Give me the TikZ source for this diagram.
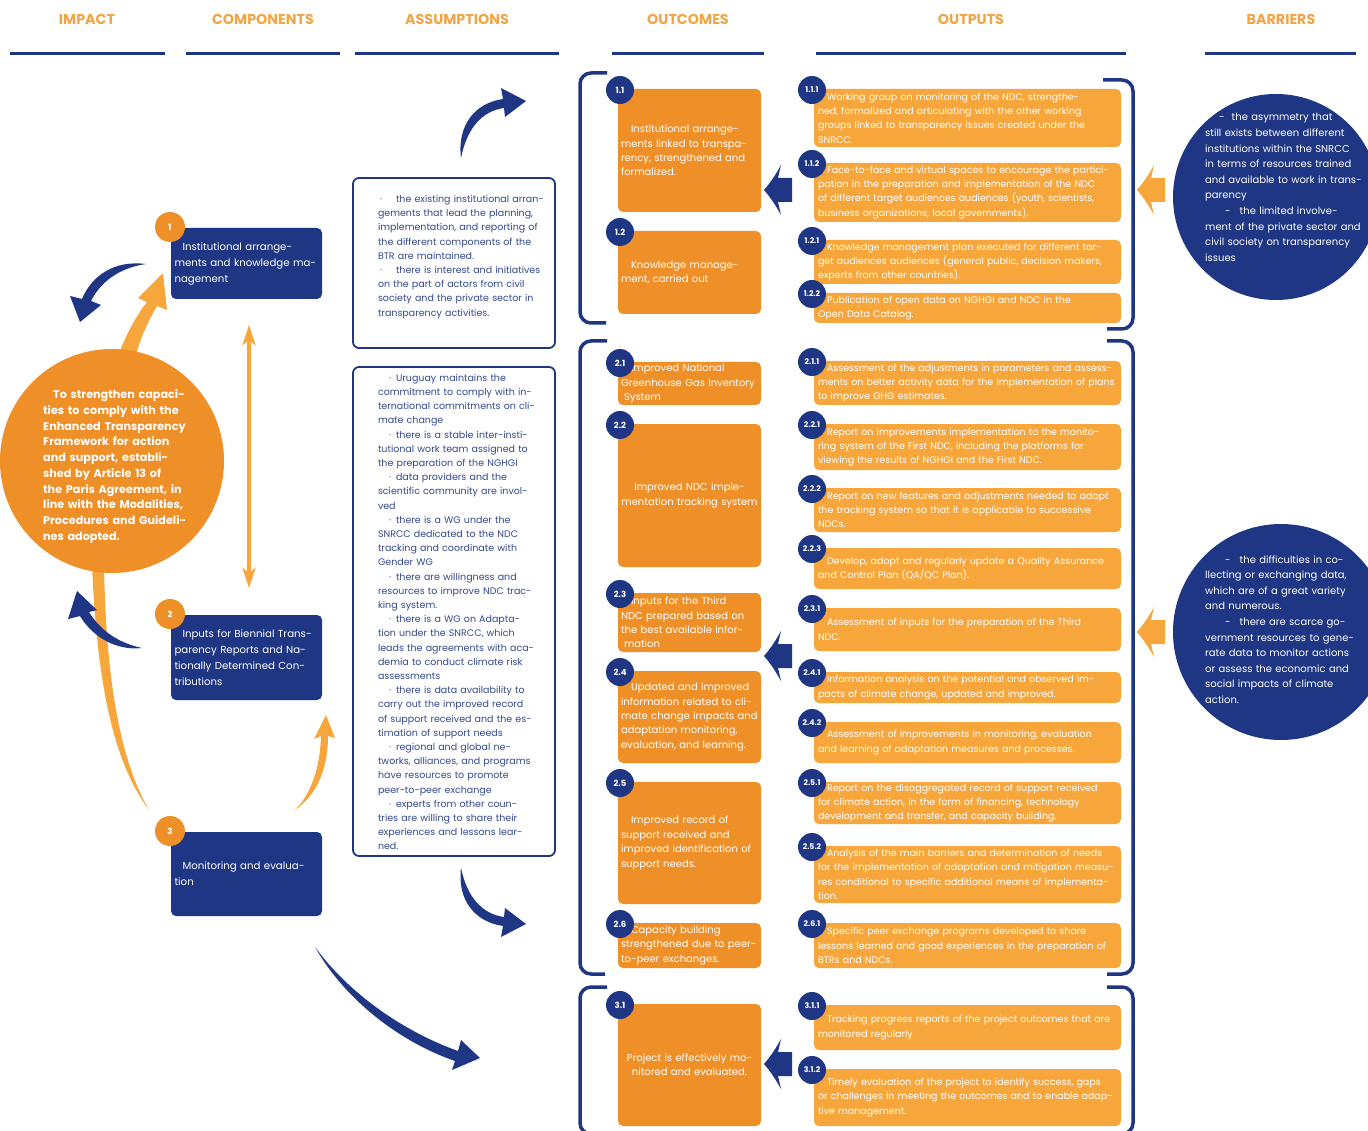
\documentclass[tikz,border=0pt]{standalone}
\usepackage{fontspec}
\setmainfont{Poppins}
\usetikzlibrary{arrows.meta}
\definecolor{navy}{HTML}{1F3684}
\definecolor{ink}{HTML}{34498E}
\definecolor{outcomeor}{HTML}{EE8F28}
\definecolor{outputor}{HTML}{F6A63B}
\definecolor{heador}{HTML}{F2A446}
% a justified line of the full text width
\newcommand\jl[1]{\makebox[\linewidth][s]{#1}}
% output box with its numbered badge: name, label, top, bottom, text
\newcommand\outp[5]{%
  \node[outbox, minimum height={(#4-#3)*1pt}] (#1) at (967.5,{(#3+#4)/2}) {#5};
  \node[nbadge] (#1n) at (812,#3+1) {#2};}
% outcome box with its numbered badge: name, label, top, bottom, alignment, text
\newcommand\outc[6]{%
  \node[ocbox, align=#5, minimum height={(#4-#3)*1pt}] (#1) at (689.5,{(#3+#4)/2}) {#6};
  \node[nbadge, font=\bfseries\fontsize{8.5}{8.5}\selectfont] (#1n) at (620,#3+1) {#2};}
% left-pointing block arrow: colour, tip x, centre y
\newcommand\leftblock[3]{%
  \fill[#1] (#2,#3) .. controls (#2+7,#3-8) and (#2+12,#3-16) .. (#2+17,#3-25)
    -- (#2+14,#3-12) -- (#2+28,#3-12) -- (#2+28,#3+12) -- (#2+14,#3+12)
    -- (#2+17,#3+25) .. controls (#2+12,#3+16) and (#2+7,#3+8) .. cycle;}

\begin{document}
\begin{tikzpicture}[x=1pt,y=-1pt,
  head/.style={text=heador, font=\bfseries\fontsize{14.3}{15}\selectfont},
  rule/.style={navy, line width=3pt},
  outbox/.style={fill=outputor, rounded corners=5pt, text=white, align=left,
    text width=299pt, inner xsep=4pt, inner ysep=0pt, font=\fontsize{9.5}{14.3}\selectfont},
  ocbox/.style={fill=outcomeor, rounded corners=5pt, text=white,
    text width=137pt, inner xsep=3pt, inner ysep=0pt, font=\fontsize{10}{14.4}\selectfont},
  nbadge/.style={circle, fill=navy, text=white, minimum size=28pt, inner sep=0pt,
    font=\bfseries\fontsize{7.8}{7.8}\selectfont},
  obadge/.style={circle, fill=outcomeor, text=white, minimum size=30pt, inner sep=0pt,
    font=\bfseries\fontsize{8.5}{8.5}\selectfont},
  compbox/.style={fill=navy, rounded corners=5pt, text=white, align=left,
    text width=144pt, inner xsep=3.5pt, inner ysep=0pt, font=\fontsize{10.2}{16}\selectfont},
  assbox/.style={draw=navy, line width=1.8pt, fill=white, rounded corners=6pt, minimum width=202pt},
  asstext/.style={text=ink, align=left, inner sep=0pt, font=\fontsize{9.5}{14.2}\selectfont},
  bracket/.style={navy, line width=3.5pt, rounded corners=11pt},
  barrier/.style={circle, fill=navy, inner sep=0pt},
  bartext/.style={text=white, align=left, inner sep=0pt, text width=160pt,
    font=\fontsize{10}{15.6}\selectfont},
  dblarrow/.style={outputor, line width=4pt,
    {Stealth[length=20pt,width=13pt,inset=5pt]}-{Stealth[length=20pt,width=13pt,inset=5pt]}},
]
\useasboundingbox (0,0) rectangle (1368,1131);
\fill[white] (0,0) rectangle (1368,1131);

% ---- column headings and rules
\node[head] (hImpact) at (87,19) {IMPACT};
\node[head] (hComp) at (263,19) {COMPONENTS};
\node[head] (hAss) at (457,19) {ASSUMPTIONS};
\node[head] (hOutc) at (688,19) {OUTCOMES};
\node[head] (hOutp) at (971,19) {OUTPUTS};
\node[head] (hBar) at (1281,19) {BARRIERS};
\draw[rule] (10,54) -- (165,54);
\draw[rule] (186,54) -- (340,54);
\draw[rule] (355,54) -- (559,54);
\draw[rule] (612,54) -- (764,54);
\draw[rule] (816,54) -- (1126,54);
\draw[rule] (1205,54) -- (1356,54);

% ---- swoosh arrows of the left part
\fill[outputor] (118,356) .. controls (126,335) and (136,316) .. (147,302)
  -- (138,298) -- (163,273) -- (167,310) -- (157,306)
  .. controls (148,322) and (140,338) .. (136,356) -- cycle;
\fill[outputor] (92,565) .. controls (97,680) and (112,760) .. (149,810)
  .. controls (120,760) and (106,680) .. (104,565) -- cycle;
\fill[navy] (146,264) .. controls (115,260) and (92,275) .. (82,299)
  -- (70,296) -- (80,322) -- (101,305) -- (91,301)
  .. controls (100,283) and (118,268) .. (146,264) -- cycle;
\fill[navy] (142,648) .. controls (115,651) and (92,636) .. (80,616)
  -- (68,619) -- (77,591) -- (97,610) -- (89,612)
  .. controls (100,630) and (118,643) .. (142,648) -- cycle;
\fill[outputor] (295,810) .. controls (315,796) and (328,772) .. (328,736)
  -- (335,738) -- (326,715) -- (314,739) -- (321,736)
  .. controls (320,770) and (310,795) .. (295,810) -- cycle;
\fill[navy] (461,158) .. controls (457,125) and (475,103) .. (503,99)
  -- (501,88) -- (526,101) -- (505,117) -- (504,108)
  .. controls (482,111) and (467,128) .. (461,158) -- cycle;
\fill[navy] (461,868) .. controls (457,900) and (475,922) .. (503,926)
  -- (501,937) -- (526,924) -- (505,908) -- (504,917)
  .. controls (482,914) and (467,897) .. (461,868) -- cycle;
\fill[navy] (315,947) .. controls (345,1000) and (400,1042) .. (455,1061)
  -- (452,1070) -- (480,1058) -- (461,1040) -- (458,1051)
  .. controls (405,1032) and (350,995) .. (315,947) -- cycle;

% ---- impact
\node[circle, fill=outcomeor, minimum size=224pt, inner sep=0pt] (impact) at (112,461) {};
\node[anchor=west, text width=160pt, align=left, inner sep=0pt, text=white,
  font=\bfseries\fontsize{11.2}{15.7}\selectfont] (impactText) at (43,466.5)
  {\hspace*{10pt}To strengthen capaci-\\ties to comply with the\\Enhanced Transparency\\Framework for action\\and support, establi-\\shed by Article 13 of\\the Paris Agreement, in\\line with the Modalities,\\Procedures and Guideli-\\nes adopted.};

% ---- components
\node[compbox, minimum height=71pt] (c1) at (246.5,263.5)
  {\jl{\hspace*{8pt}Institutional arrange-}\\\jl{ments and knowledge ma-}\\nagement};
\node[obadge] (c1n) at (170,227) {1};
\node[compbox, minimum height=85pt] (c2) at (246.5,657.5)
  {\jl{\hspace*{8pt}Inputs for Biennial Trans-}\\\jl{parency Reports and Na-}\\\jl{tionally Determined Con-}\\tributions};
\node[obadge] (c2n) at (170,614) {2};
\node[compbox, minimum height=84pt] (c3) at (246.5,874)
  {\jl{\hspace*{8pt}Monitoring and evalua-}\\tion};
\node[obadge] (c3n) at (170,831) {3};
\coordinate (dTop) at (249,325);
\coordinate (dBot) at (249,588);
\draw[dblarrow] (dTop) -- (dBot);

% ---- assumptions
\node[assbox, minimum height=170pt] (a1) at (454,263) {};
\node[asstext, text width=171pt] (a1t) at (463.5,257)
  {\jl{\hspace*{2pt}·\hspace*{14pt}the existing institutional arran-}\\
   \jl{gements that lead the planning,}\\
   \jl{implementation, and reporting of}\\
   \jl{the different components of the}\\
   BTR are maintained.\\
   \jl{\hspace*{2pt}·\hspace*{14pt}there is interest and initiatives}\\
   \jl{on the part of actors from civil}\\
   \jl{society and the private sector in}\\
   transparency activities.};
\node[assbox, minimum height=489pt] (a2) at (454,611.5) {};
\node[asstext, text width=158pt] (a2t) at (457,612)
  {\jl{\hspace*{11pt}·\hspace*{5pt}Uruguay maintains the}\\
   \jl{commitment to comply with in-}\\
   \jl{ternational commitments on cli-}\\
   mate change\\
   \jl{\hspace*{11pt}·\hspace*{5pt}there is a stable inter-insti-}\\
   \jl{tutional work team assigned to}\\
   the preparation of the NGHGI\\
   \jl{\hspace*{11pt}·\hspace*{5pt}data providers and the}\\
   \jl{scientific community are invol-}\\
   ved\\
   \jl{\hspace*{11pt}·\hspace*{5pt}there is a WG under the}\\
   \jl{SNRCC dedicated to the NDC}\\
   \jl{tracking and coordinate with}\\
   Gender WG\\
   \jl{\hspace*{11pt}·\hspace*{5pt}there are willingness and}\\
   \jl{resources to improve NDC trac-}\\
   king system.\\
   \jl{\hspace*{11pt}·\hspace*{5pt}there is a WG on Adapta-}\\
   \jl{tion under the SNRCC, which}\\
   \jl{leads the agreements with aca-}\\
   \jl{demia to conduct climate risk}\\
   assessments\\
   \jl{\hspace*{11pt}·\hspace*{5pt}there is data availability to}\\
   \jl{carry out the improved record}\\
   \jl{of support received and the es-}\\
   timation of support needs\\
   \jl{\hspace*{11pt}·\hspace*{5pt}regional and global ne-}\\
   \jl{tworks, alliances, and programs}\\
   \jl{have resources to promote}\\
   peer-to-peer exchange\\
   \jl{\hspace*{11pt}·\hspace*{5pt}experts from other coun-}\\
   \jl{tries are willing to share their}\\
   \jl{experiences and lessons lear-}\\
   ned.};

% ---- brackets round the outcome groups
\draw[bracket] (607,73) -- (580,73) -- (580,323) -- (606,323);
\draw[bracket] (1103,80) -- (1133,80) -- (1133,329) -- (1107,329);
\draw[bracket] (607,341) -- (580,341) -- (580,974) -- (605,974);
\draw[bracket] (1107,341) -- (1133,341) -- (1133,974) -- (1107,974);
\draw[bracket] (607,987) -- (580,987) -- (580,1134) -- (605,1134);
\draw[bracket] (1107,987) -- (1133,987) -- (1133,1134) -- (1107,1134);

% ---- outcomes
\outc{oc11}{1.1}{89}{212}{left}{\hspace*{10pt}Institutional arrange-\\ments linked to transpa-\\rency, strengthened and\\formalized.}
\outc{oc12}{1.2}{231}{314}{left}{\hspace*{10pt}Knowledge manage-\\ment, carried out}
\outc{oc21}{2.1}{362}{405}{left}{\hspace*{10pt}Improved National\\Greenhouse Gas Inventory\\\hspace*{3pt}System}
\outc{oc22}{2.2}{424}{567}{center}{Improved NDC imple-\\mentation tracking system}
\outc{oc23}{2.3}{593}{652}{left}{\hspace*{10pt}Inputs for the Third\\NDC prepared based on\\the best available infor-\\\hspace*{3pt}mation}
\outc{oc24}{2.4}{671}{763}{left}{\hspace*{10pt}Updated and improved\\information related to cli-\\mate change impacts and\\adaptation monitoring,\\evaluation, and learning.}
\outc{oc25}{2.5}{782}{904}{left}{\hspace*{10pt}Improved record of\\support received and\\improved identification of\\support needs.}
\outc{oc26}{2.6}{923}{968}{left}{\hspace*{10pt}Capacity building\\strengthened due to peer-\\to-peer exchanges.}
\outc{oc31}{3.1}{1004}{1126}{center}{Project is effectively mo-\\nitored and evaluated.}

% ---- outputs
\outp{o111}{1.1.1}{89}{147}{\hspace*{9pt}Working group on monitoring of the NDC, strengthe-\\ned, formalized and articulating with the other working\\groups linked to transparency issues created under the\\SNRCC.}
\outp{o112}{1.1.2}{163}{222}{\hspace*{9pt}Face-to-face and virtual spaces to encourage the partici-\\pation in the preparation and implementation of the NDC\\of different target audiences audiences (youth, scientists,\\business organizations, local governments).}
\outp{o121}{1.2.1}{240}{284}{\hspace*{9pt}Knowledge management plan executed for different tar-\\get audiences audiences (general public, decision makers,\\experts from other countries).}
\outp{o122}{1.2.2}{293}{323}{\hspace*{9pt}Publication of open data on NGHGI and NDC in the\\Open Data Catalog.}
\outp{o211}{2.1.1}{361}{405}{\hspace*{9pt}Assessment of the adjustments in parameters and assess-\\ments on better activity data for the implementation of plans\\to improve GHG estimates.}
\outp{o221}{2.2.1}{424}{470}{\hspace*{9pt}Report on improvements implementation to the monito-\\ring system of the First NDC, including the platforms for\\viewing the results of NGHGI and the First NDC.}
\outp{o222}{2.2.2}{488}{532}{\hspace*{9pt}Report on new features and adjustments needed to adapt\\the tracking system so that it is applicable to successive\\NDCs.}
\outp{o223}{2.2.3}{548}{589}{\hspace*{9pt}Develop, adopt and regularly update a Quality Assurance\\and Control Plan (QA/QC Plan).}
\outp{o231}{2.3.1}{608}{651}{\hspace*{9pt}Assessment of inputs for the preparation of the Third\\NDC.}
\outp{o241}{2.4.1}{672}{703}{\hspace*{9pt}Information analysis on the potential and observed im-\\pacts of climate change, updated and improved.}
\outp{o242}{2.4.2}{722}{763}{\hspace*{9pt}Assessment of improvements in monitoring, evaluation\\and learning of adaptation measures and processes.}
\outp{o251}{2.5.1}{782}{824}{\hspace*{9pt}Report on the disaggregated record of support received\\for climate action, in the form of financing, technology\\development and transfer, and capacity building.}
\outp{o252}{2.5.2}{846}{903}{\hspace*{9pt}Analysis of the main barriers and determination of needs\\for the implementation of adaptation and mitigation measu-\\res conditional to specific additional means of implementa-\\tion.}
\outp{o261}{2.6.1}{923}{968}{\hspace*{9pt}Specific peer exchange programs developed to share\\lessons learned and good experiences in the preparation of\\BTRs and NDCs.}
\outp{o311}{3.1.1}{1005}{1050}{\hspace*{9pt}Tracking progress reports of the project outcomes that are\\monitored regularly}
\outp{o312}{3.1.2}{1069}{1126}{\hspace*{9pt}Timely evaluation of the project to identify success, gaps\\or challenges in meeting the outcomes and to enable adap-\\tive management.}

% ---- block arrows: outputs feed outcomes, barriers press on outputs
\leftblock{navy}{764}{190}
\leftblock{navy}{764}{656}
\leftblock{navy}{764}{1064}
\leftblock{outputor}{1137}{190}
\leftblock{outputor}{1137}{632}

% ---- barriers
\node[barrier, minimum size=206pt] (b1) at (1276,197) {};
\node[bartext, anchor=west] (b1t) at (1205,187.5)
  {\hspace*{14pt}-\hspace*{7pt}the asymmetry that\\still exists between different\\institutions within the SNRCC\\in terms of resources trained\\and available to work in trans-\\parency\\\hspace*{20pt}-\hspace*{9pt}the limited involve-\\ment of the private sector and\\civil society on transparency\\issues};
\node[barrier, minimum size=216pt] (b2) at (1281,632) {};
\node[bartext, anchor=west] (b2t) at (1205,629.5)
  {\hspace*{20pt}-\hspace*{9pt}the difficulties in co-\\llecting or exchanging data,\\which are of a great variety\\and numerous.\\\hspace*{20pt}-\hspace*{9pt}there are scarce go-\\vernment resources to gene-\\rate data to monitor actions\\or assess the economic and\\social impacts of climate\\action.};
\end{tikzpicture}
\end{document}
